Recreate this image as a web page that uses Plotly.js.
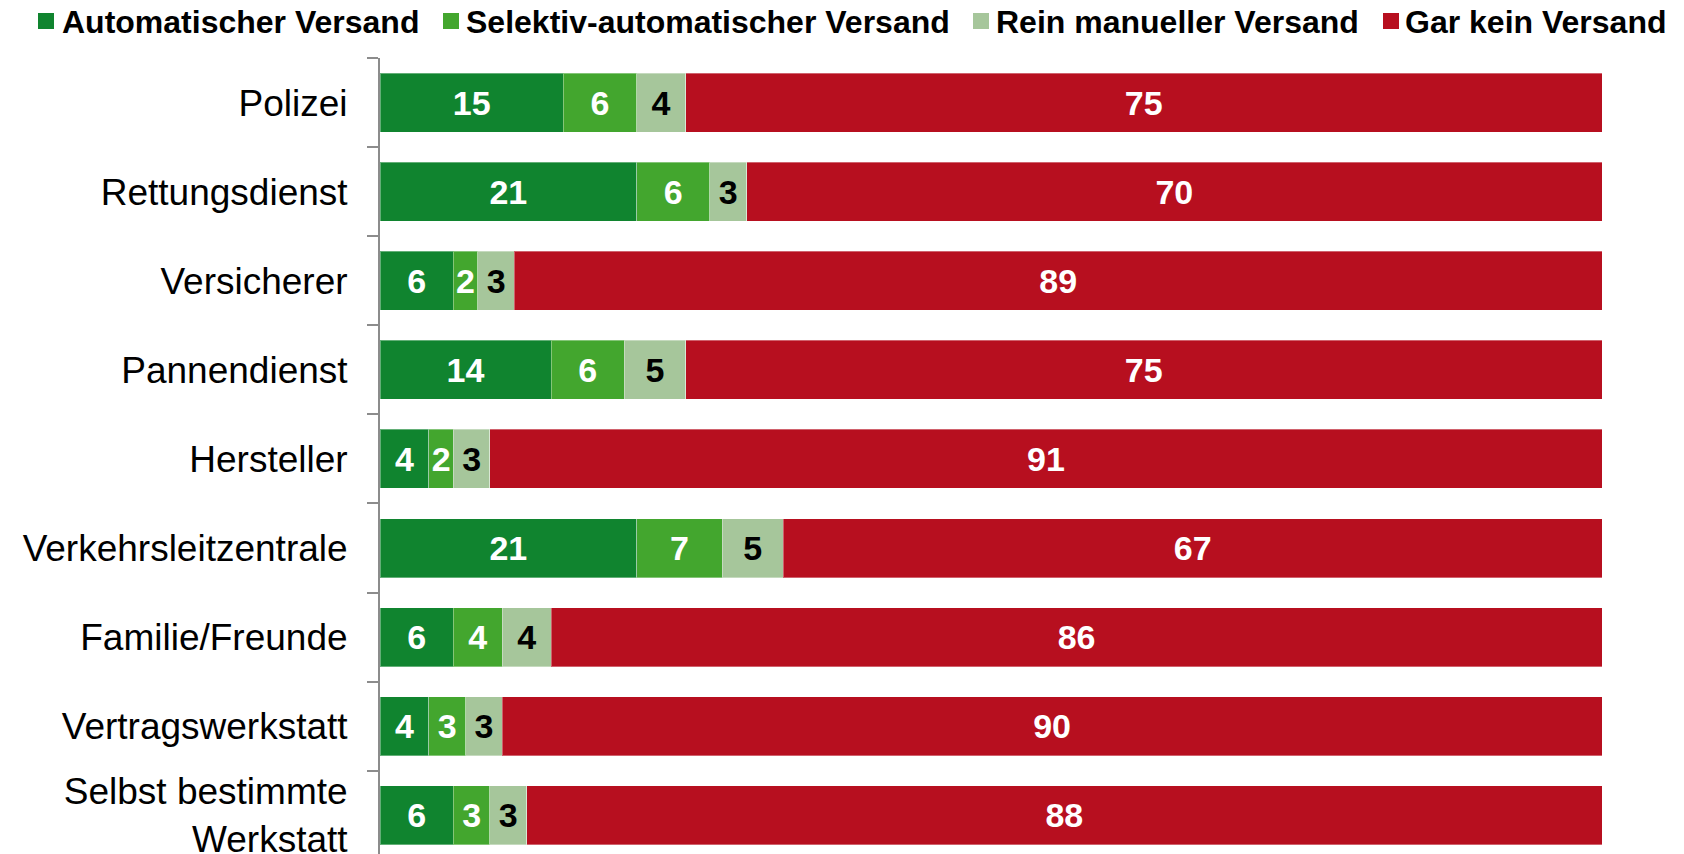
<!DOCTYPE html>
<html>
<head>
<meta charset="utf-8">
<script src="https://cdn.plot.ly/plotly-3.0.1.min.js"></script>
<style>html,body{margin:0;padding:0;background:#fff;}#chart{width:1684px;height:854px;}</style>
</head>
<body>
<div id="chart"></div>
<script>
const categories = ["Polizei", "Rettungsdienst", "Versicherer", "Pannendienst", "Hersteller",
  "Verkehrsleitzentrale", "Familie/Freunde", "Vertragswerkstatt", "Selbst bestimmte<br>Werkstatt"];
const seriesNames = ["Automatischer Versand", "Selektiv-automatischer Versand", "Rein manueller Versand", "Gar kein Versand"];
const automatisch = [15, 21, 6, 14, 4, 21, 6, 4, 6];
const selektiv    = [6, 6, 2, 6, 2, 7, 4, 3, 3];
const manuell     = [4, 3, 3, 5, 3, 5, 4, 3, 3];
const garKein     = [75, 70, 89, 75, 91, 67, 86, 90, 88];

const colors = ["#10842f", "#43a62e", "#a6c69b", "#b70f1f"];
const textColors = ["#ffffff", "#ffffff", "#000000", "#ffffff"];
const values = [automatisch, selektiv, manuell, garKein];
const FONT = "Arial, 'Liberation Sans', sans-serif";

// layout geometry (pixels)
const W = 1684, H = 854;
const M = {l: 380, r: 82, t: 58, b: 0};
const PW = W - M.l - M.r, PH = H - M.t - M.b;
const px2x = p => (p - M.l) / PW;
const px2y = p => (H - M.b - p) / PH;

// manual legend positions (pixels): square left edge, text left edge
const legendSquareX = [38, 443, 973, 1383];
const legendTextX = [61, 465, 995, 1404];
const legendY = 22, SQ = 16;

const traces = values.map((v, i) => ({
  type: "bar",
  orientation: "h",
  name: seriesNames[i],
  x: v,
  y: categories,
  text: v.map(String),
  textposition: "inside",
  insidetextanchor: "middle",
  constraintext: "none",
  textangle: 0,
  insidetextfont: {family: FONT, size: 34, color: textColors[i], weight: "bold"},
  marker: {color: colors[i], line: {color: "rgba(255,255,255,0.35)", width: 1}},
  hoverinfo: "x+y+name",
  showlegend: false
}));

const shapes = seriesNames.map((n, i) => ({
  type: "rect", xref: "paper", yref: "paper",
  x0: px2x(legendSquareX[i]), x1: px2x(legendSquareX[i] + SQ),
  y0: px2y(legendY - SQ / 2 - 1), y1: px2y(legendY + SQ / 2 - 1),
  fillcolor: colors[i], line: {width: 0}
}));

const annotations = seriesNames.map((n, i) => ({
  xref: "paper", yref: "paper",
  x: px2x(legendTextX[i]), y: px2y(legendY),
  xanchor: "left", yanchor: "middle",
  text: n, showarrow: false,
  font: {family: FONT, size: 32, color: "#000000", weight: "bold"},
  borderpad: 0
}));

const layout = {
  width: W,
  height: H,
  paper_bgcolor: "#ffffff",
  plot_bgcolor: "#ffffff",
  barmode: "stack",
  bargap: 0.338,
  margin: M,
  font: {family: FONT, color: "#000000"},
  showlegend: false,
  shapes: shapes,
  annotations: annotations,
  xaxis: {
    range: [0, 100],
    visible: false,
    showgrid: false,
    zeroline: false,
    fixedrange: true
  },
  yaxis: {
    type: "category",
    categoryorder: "array",
    categoryarray: categories,
    range: [8.434, -0.5],
    showline: true,
    linecolor: "#8c8c8c",
    linewidth: 2,
    ticks: "outside",
    tickson: "boundaries",
    ticklen: 11,
    tickwidth: 2,
    tickcolor: "#8c8c8c",
    ticklabelstandoff: 23,
    tickfont: {family: FONT, size: 37, color: "#000000"},
    showgrid: false,
    zeroline: false,
    fixedrange: true
  }
};

Plotly.newPlot("chart", traces, layout, {displayModeBar: false, staticPlot: true});
</script>
</body>
</html>
